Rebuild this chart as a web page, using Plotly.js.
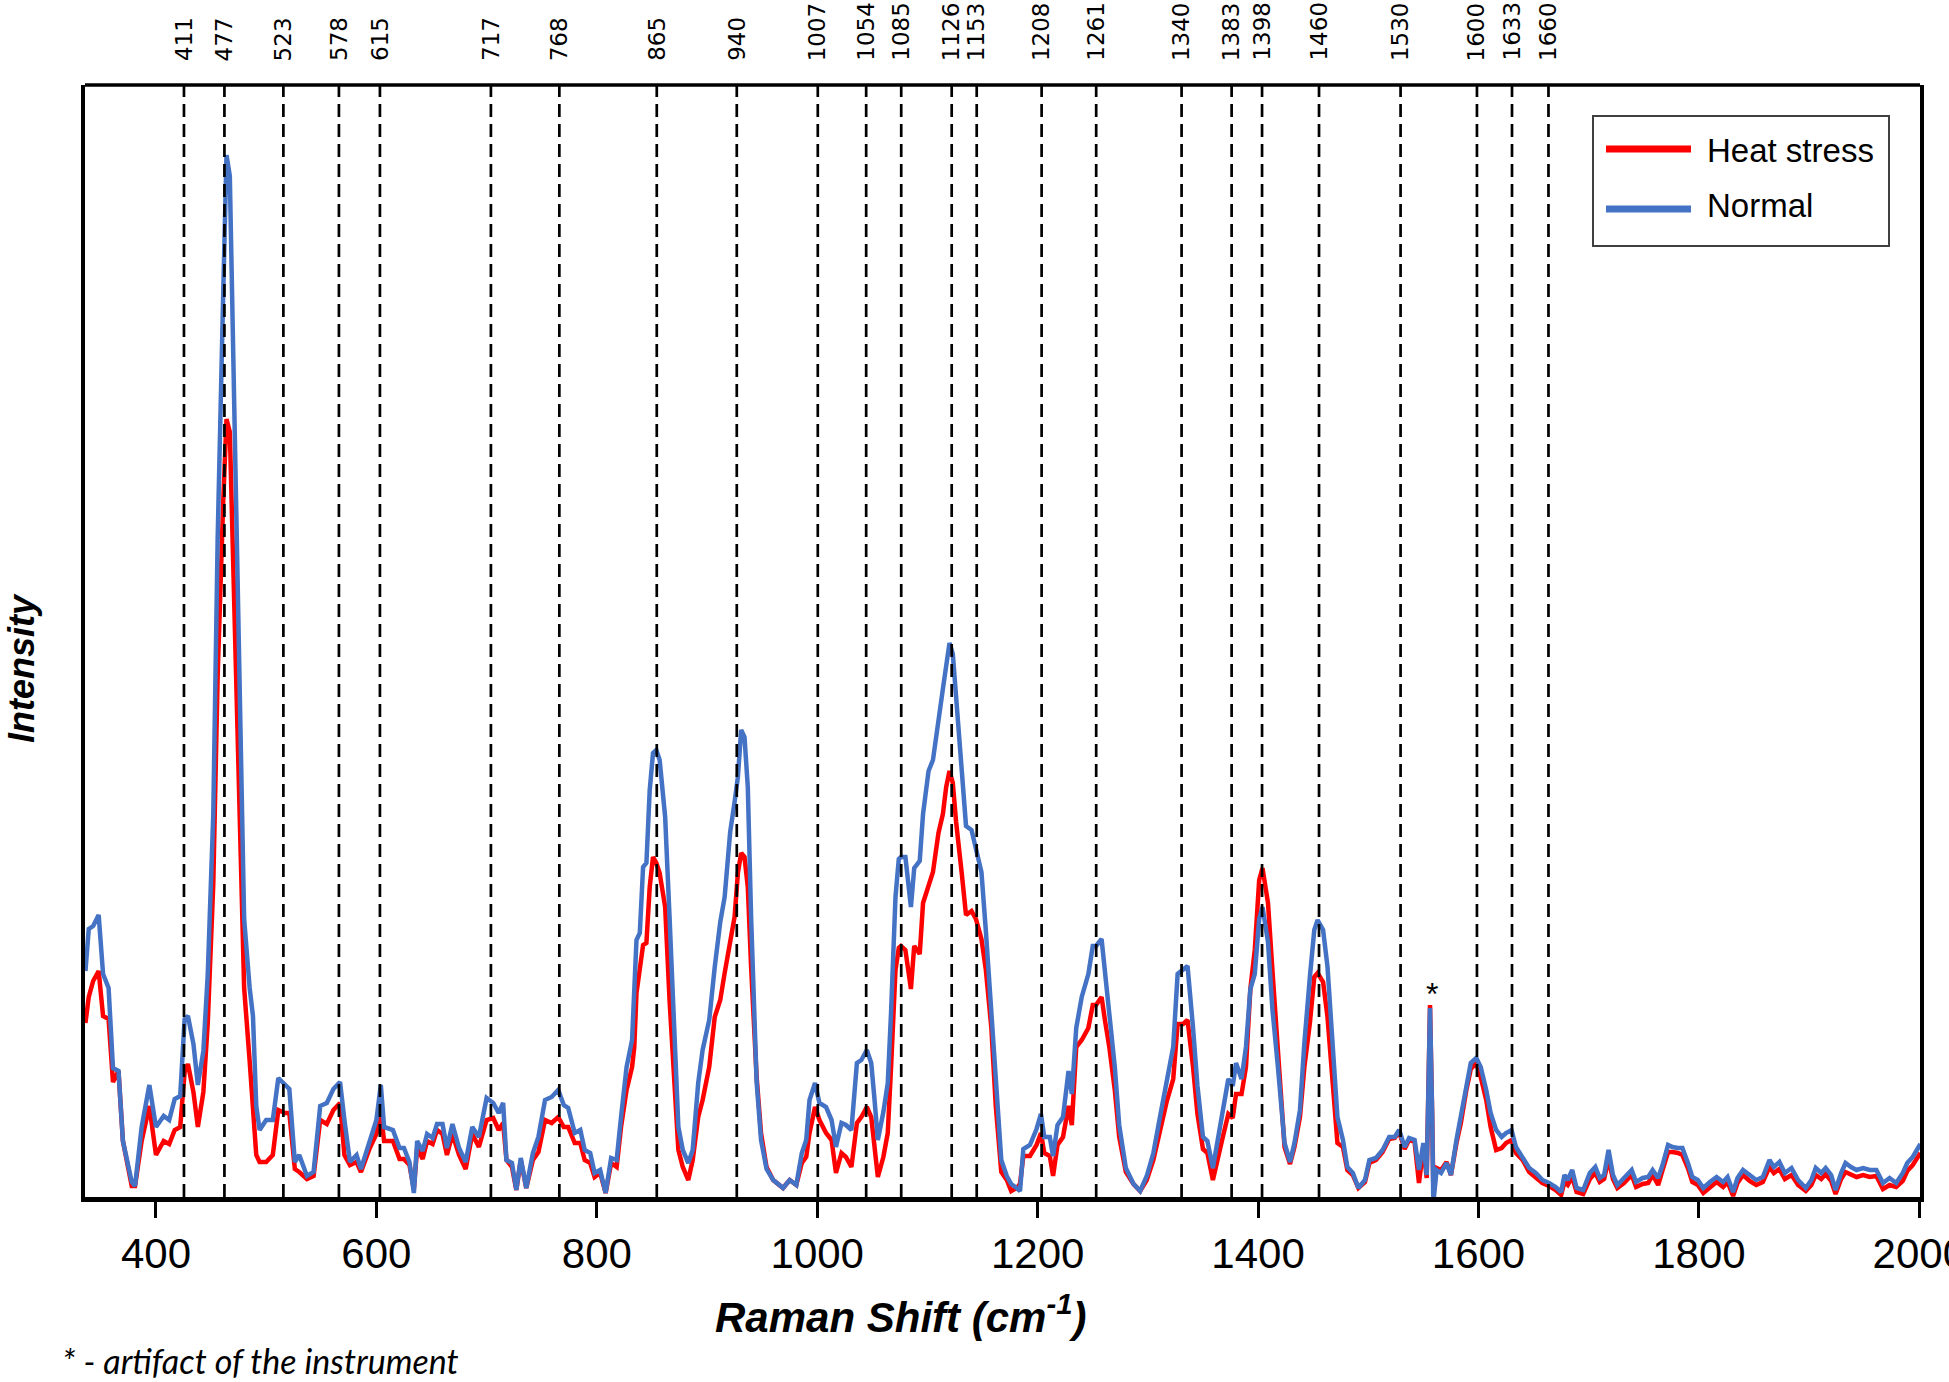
<!DOCTYPE html>
<html>
<head>
<meta charset="utf-8">
<title>Raman spectra - heat stress vs normal</title>
<script src="https://cdn.plot.ly/plotly-3.0.1.min.js"></script>
<style>
  html, body { margin: 0; padding: 0; background: #fff; }
  #chart { width: 1949px; height: 1382px; }
</style>
</head>
<body>
<div id="chart"></div>
<script>
// Raman shift (cm-1) sampled along both spectra
const ramanShift = [
  336, 339, 343, 348, 352, 357, 361, 366, 370, 378, 381, 387, 394, 400, 407, 412, 417, 422, 426, 429,
  434, 438, 443, 447, 452, 456, 461, 464, 467, 471, 476, 480, 485, 488, 491, 494, 500, 506, 511, 517,
  521, 526, 530, 537, 543, 549, 555, 561, 567, 571, 576, 582, 586, 594, 600, 604, 607, 615, 621, 625,
  630, 634, 637, 642, 646, 651, 655, 660, 664, 669, 675, 681, 687, 693,
  700, 706, 711, 715, 718, 723, 727, 731, 736, 742, 747, 753, 759, 765, 770, 774, 780, 785, 789, 794,
  798, 803, 808, 813, 818, 822, 827, 832, 834, 836, 839, 842, 845, 848, 851, 854, 857, 862, 866, 871,
  874, 878, 883, 887, 892, 896, 902, 907, 912, 916, 921, 925, 928, 931, 934, 937, 940, 945, 949, 954,
  960, 969, 975, 981, 986, 990, 993, 998, 1002, 1008, 1013, 1017, 1022, 1026, 1031, 1036, 1040, 1045, 1049, 1052,
  1055, 1060, 1064, 1067, 1071, 1074,
  1076, 1080, 1085, 1088, 1093, 1096, 1101, 1105, 1110, 1114, 1117, 1120, 1123, 1126, 1131, 1135, 1140, 1144, 1149, 1153,
  1158, 1162, 1167, 1172, 1176, 1181, 1184, 1187, 1193, 1199, 1203, 1206, 1211, 1214, 1218, 1223, 1228, 1231, 1235, 1240,
  1246, 1250, 1253, 1258, 1261, 1265, 1270, 1274, 1280, 1287, 1293, 1299, 1305, 1311, 1317, 1323, 1327, 1332, 1336, 1341,
  1345, 1350, 1354, 1359, 1364, 1368, 1373, 1377, 1380, 1385, 1389, 1393, 1397, 1401, 1404, 1409, 1413, 1418,
  1424, 1429, 1433, 1438, 1442, 1447, 1451, 1454, 1459, 1463, 1468, 1472, 1477, 1481, 1486, 1491, 1497, 1501, 1507, 1513,
  1519, 1524, 1528, 1533, 1537, 1542, 1546, 1550, 1553, 1556, 1558, 1559, 1562, 1566, 1571, 1575, 1580, 1584, 1589, 1593,
  1598, 1602, 1607, 1611, 1616, 1621, 1625, 1630, 1634, 1640, 1646, 1652, 1658, 1664, 1670, 1675,
  1678, 1681, 1685, 1689, 1695, 1701, 1706, 1710, 1714, 1718, 1722, 1726, 1732, 1739, 1743, 1749, 1754, 1758, 1763, 1767,
  1772, 1776, 1781, 1785, 1790, 1794, 1799, 1804, 1810, 1816, 1822, 1826, 1831, 1835, 1840, 1846, 1852, 1858, 1864, 1868,
  1873, 1878, 1884, 1890, 1897, 1902, 1906, 1911, 1915, 1920, 1924, 1929, 1933, 1938, 1943, 1949, 1955, 1961, 1967, 1973,
  1979, 1985, 1989, 1994, 1999, 2001
];

// Heat stress spectrum (arbitrary intensity units)
const heatStress = [
  17.4, 20.0, 21.6, 22.6, 18.1, 17.8, 11.5, 12.6, 5.6, 1.1, 1.1, 5.6, 9.1, 4.2, 5.6, 5.3, 6.7, 7.0, 12.5, 13.3,
  10.5, 7.0, 10.5, 17.4, 31.3, 52.2, 69.5, 77.8, 76.5, 59.1, 38.3, 20.9, 13.6, 9.1, 4.2, 3.5, 3.5, 4.2, 8.7, 8.4,
  8.4, 2.8, 2.5, 1.8, 2.1, 7.7, 7.3, 8.7, 9.4, 4.2, 3.2, 3.5, 2.5, 4.9, 6.3, 8.4, 5.6, 5.6, 3.8, 3.8,
  3.2, 0.8, 4.9, 3.8, 5.6, 5.3, 6.7, 6.3, 4.2, 6.3, 4.2, 2.8, 6.3, 5.0,
  7.7, 7.9, 6.7, 7.4, 3.7, 3.0, 0.7, 3.7, 0.9, 3.7, 4.5, 7.7, 7.4, 8.0, 7.0, 7.0, 5.4, 5.4, 3.7, 3.4,
  2.0, 2.4, 0.4, 3.4, 3.0, 7.0, 10.7, 13.0, 15.0, 20.4, 23.0, 25.2, 25.4, 31.0, 34.0, 33.4, 32.4, 29.0, 19.7, 9.7,
  4.7, 3.0, 1.7, 3.7, 8.0, 9.7, 13.0, 18.0, 19.7, 22.4, 25.7, 28.0, 32.4, 34.4, 34.0, 31.0, 23.0, 12.0, 6.4, 3.0,
  1.7, 0.9, 1.7, 1.2, 3.4, 4.0, 6.4, 9.0, 7.7, 6.4, 5.7, 2.4, 4.4, 4.0, 3.0, 7.4, 8.0, 9.0, 8.0, 5.4,
  2.0, 4.0, 6.4, 13.0, 22.7, 24.9,
  25.1, 24.7, 20.8, 25.1, 24.3, 29.4, 31.3, 32.5, 36.4, 38.3, 41.0, 42.6, 41.4, 37.5, 32.5, 28.2, 28.6, 27.8, 25.8, 22.7,
  16.9, 9.1, 2.5, 1.7, 0.6, 0.9, 1.3, 4.1, 4.1, 5.2, 6.4, 4.4, 4.1, 2.1, 5.2, 6.0, 9.1, 7.2, 15.0, 15.7,
  16.9, 19.2, 19.2, 20.0, 17.7, 15.0, 10.7, 6.0, 2.5, 1.3, 0.6, 1.7, 3.7, 6.8, 9.5, 11.8, 17.3, 17.3, 17.7, 13.0,
  8.3, 4.8, 4.4, 1.7, 4.4, 6.0, 8.3, 7.9, 10.3, 10.3, 13.0, 20.8, 24.7, 31.7, 32.9, 29.4, 22.7, 15.0,
  5.0, 3.3, 5.0, 8.0, 13.0, 17.4, 22.0, 22.4, 21.5, 18.0, 11.4, 5.4, 5.0, 2.7, 2.2, 0.9, 1.5, 3.4, 3.7, 4.5,
  5.8, 5.9, 6.5, 4.8, 5.7, 5.5, 1.4, 5.0, 1.9, 19.2, 8.0, 1.0, 2.9, 2.7, 3.5, 2.2, 5.4, 7.4, 10.7, 12.8,
  13.4, 12.0, 9.7, 7.0, 4.7, 4.9, 5.4, 5.7, 4.4, 3.7, 2.5, 2.0, 1.4, 1.1, 0.7, 0.2,
  1.5, 1.2, 2.0, 0.5, 0.3, 1.8, 2.4, 1.5, 1.8, 3.8, 1.8, 0.9, 1.4, 2.2, 1.0, 1.3, 1.4, 2.2, 1.2, 2.7,
  4.5, 4.5, 4.4, 4.2, 2.9, 1.5, 1.2, 0.4, 1.0, 1.5, 1.0, 1.5, 0.1, 1.4, 2.2, 1.6, 1.2, 1.5, 3.0, 2.4,
  2.8, 1.8, 2.2, 1.2, 0.6, 1.2, 2.2, 1.8, 2.3, 1.6, 0.3, 1.8, 2.5, 2.2, 2.0, 2.2, 2.0, 2.1, 0.8, 1.2,
  1.0, 1.6, 2.6, 3.2, 4.0, 4.4
];

// Normal spectrum (same units)
const normal = [
  22.6, 26.8, 27.1, 28.2, 22.3, 20.9, 12.9, 12.6, 5.6, 1.5, 1.1, 7.0, 11.2, 7.0, 8.1, 7.7, 9.8, 10.1, 17.8, 18.1,
  15.3, 11.2, 14.6, 22.3, 38.3, 66.0, 90.3, 104.2, 102.1, 79.9, 52.2, 27.8, 20.9, 18.1, 9.1, 6.7, 7.7, 7.7, 11.9, 11.2,
  10.8, 3.5, 4.2, 2.1, 2.5, 9.1, 9.4, 10.8, 11.5, 7.7, 3.5, 4.2, 2.8, 5.6, 7.7, 11.2, 7.0, 6.7, 4.9, 4.9,
  3.5, 0.4, 5.6, 4.6, 6.3, 5.9, 7.3, 7.3, 4.9, 7.3, 4.9, 3.5, 7.0, 6.0,
  9.9, 9.4, 8.4, 9.4, 3.7, 3.4, 0.7, 3.9, 0.9, 4.4, 6.0, 9.7, 10.0, 10.7, 9.2, 8.9, 6.4, 6.7, 4.7, 4.4,
  2.4, 2.7, 0.4, 3.9, 3.7, 8.0, 13.0, 15.7, 19.7, 25.7, 26.4, 33.0, 33.4, 40.7, 44.4, 44.7, 43.7, 38.0, 28.0, 14.7,
  7.0, 4.7, 3.4, 4.7, 11.4, 14.7, 17.7, 23.0, 27.5, 30.0, 36.5, 39.5, 42.0, 46.7, 46.0, 41.0, 28.0, 11.5, 5.7, 2.8,
  1.7, 0.9, 1.7, 1.2, 4.4, 5.7, 9.7, 11.4, 9.4, 9.0, 7.7, 5.0, 7.4, 7.2, 6.7, 13.4, 13.7, 14.7, 13.4, 9.7,
  5.7, 8.5, 11.4, 18.5, 30.0, 33.8,
  34.0, 34.0, 29.0, 32.9, 33.6, 38.3, 42.6, 43.7, 48.0, 50.8, 53.1, 55.4, 54.3, 50.0, 43.4, 37.1, 36.7, 34.8, 32.5, 26.6,
  18.8, 11.1, 3.7, 2.1, 1.3, 0.9, 0.6, 4.8, 5.2, 6.8, 8.3, 6.0, 6.0, 4.1, 7.2, 8.0, 12.6, 10.3, 16.9, 20.0,
  22.3, 25.1, 25.1, 25.8, 22.7, 18.8, 13.0, 7.2, 2.9, 1.3, 0.6, 2.1, 4.4, 8.0, 11.8, 15.0, 22.3, 22.7, 23.1, 16.9,
  11.1, 6.0, 5.6, 2.9, 6.0, 8.7, 11.8, 11.1, 13.4, 11.8, 15.0, 20.8, 22.3, 27.8, 29.0, 25.5, 18.8, 13.0,
  5.4, 3.5, 5.4, 8.7, 15.4, 22.0, 26.7, 27.7, 26.7, 23.0, 15.4, 8.0, 5.7, 3.0, 2.4, 0.9, 1.7, 3.7, 3.9, 4.7,
  6.0, 6.0, 6.7, 5.0, 5.9, 5.7, 2.7, 5.4, 2.2, 18.9, 8.0, -0.6, 2.7, 2.4, 3.4, 2.2, 5.7, 8.0, 11.4, 13.4,
  13.9, 13.0, 10.7, 8.4, 6.7, 6.0, 6.4, 6.7, 5.0, 4.0, 2.9, 2.4, 1.7, 1.4, 1.0, 0.5,
  2.2, 1.7, 2.7, 0.9, 0.7, 2.4, 3.0, 1.9, 2.2, 4.7, 2.2, 1.2, 1.9, 2.7, 1.5, 1.9, 2.0, 2.7, 1.9, 3.2,
  5.2, 5.0, 4.9, 4.9, 3.4, 2.0, 1.7, 0.9, 1.5, 2.0, 1.5, 2.0, 0.5, 1.9, 2.7, 2.2, 1.7, 2.0, 3.7, 3.0,
  3.5, 2.4, 2.9, 1.7, 0.9, 1.7, 2.9, 2.4, 2.9, 2.2, 0.7, 2.4, 3.4, 3.0, 2.7, 2.9, 2.7, 2.7, 1.4, 1.9,
  1.4, 2.4, 3.4, 4.0, 4.9, 5.3
];

// Assigned bands: printed label, and the shift where its dashed line is drawn
const bandLabels = [
  '411', '477', '523', '578', '615', '717', '768', '865', '940', '1007', '1054', '1085',
  '1126', '1153', '1208', '1261', '1340', '1383', '1398', '1460', '1530', '1600', '1633', '1660'
];
const bandShift = [
  425.4, 462.1, 515.6, 566.0, 603.2, 703.9, 766.0, 854.4, 927.0, 1000.5, 1044.4, 1076.2,
  1122.0, 1144.7, 1203.6, 1253.1, 1330.6, 1376.0, 1403.6, 1455.3, 1529.3, 1598.6, 1630.4, 1663.5
];

const xTickValues = [400, 600, 800, 1000, 1200, 1400, 1600, 1800, 2000];
const seriesNames = ['Heat stress', 'Normal'];
const seriesColors = ['#ff0000', '#4472c4'];

// Plot area in page pixels (the reference frame), used to place paper-referenced items
const plotBox = { left: 85, right: 1920, top: 85, bottom: 1197 };
const plotW = plotBox.right - plotBox.left;
const plotH = plotBox.bottom - plotBox.top;
const px2paperX = function(px) { return (px - plotBox.left) / plotW; };
const px2paperY = function(py) { return (plotBox.bottom - py) / plotH; };

const sansFont = 'Liberation Sans, Arial, sans-serif';

function buildTraces() {
    const ys = [heatStress, normal];
    return ys.map(function(y, i) {
        return {
            x: ramanShift,
            y: y,
            type: 'scatter',
            mode: 'lines',
            name: seriesNames[i],
            line: { color: seriesColors[i], width: 4.5, shape: 'linear' },
            hoverinfo: 'x+y+name',
            showlegend: false
        };
    });
}

function buildShapes() {
    // dashed band markers, drawn over the spectra like in the figure
    const shapes = bandShift.map(function(pos) {
        return {
            type: 'line', xref: 'x', yref: 'paper',
            x0: pos, x1: pos, y0: 0, y1: 1,
            layer: 'above',
            line: { color: '#000', width: 2.7, dash: '13px,7px' }
        };
    });

    // top frame edge (the other edges are axis lines)
    shapes.push({
        type: 'line', xref: 'paper', yref: 'paper',
        x0: 0, x1: 1, y0: 1, y1: 1,
        line: { color: '#000', width: 3.5 }
    });

    // hand-built legend: box and two line samples
    shapes.push({
        type: 'rect', xref: 'paper', yref: 'paper',
        x0: px2paperX(1593), x1: px2paperX(1889), y0: px2paperY(246), y1: px2paperY(116),
        fillcolor: '#fff', line: { color: '#404040', width: 2 }
    });
    [149, 209].forEach(function(py, i) {
        shapes.push({
            type: 'line', xref: 'paper', yref: 'paper',
            x0: px2paperX(1606), x1: px2paperX(1691), y0: px2paperY(py), y1: px2paperY(py),
            line: { color: seriesColors[i], width: 7 }
        });
    });
    return shapes;
}

function buildAnnotations() {
    const notes = bandLabels.map(function(label, i) {
        return {
            x: bandShift[i], xref: 'x',
            y: px2paperY(63), yref: 'paper',
            text: label, textangle: -90,
            xanchor: 'center', yanchor: 'bottom',
            showarrow: false,
            font: { family: 'DejaVu Sans, Verdana, sans-serif', size: 23, color: '#000' }
        };
    });

    // legend labels
    [151, 205].forEach(function(py, i) {
        notes.push({
            x: px2paperX(1705), xref: 'paper', y: px2paperY(py), yref: 'paper',
            xanchor: 'left', yanchor: 'middle', showarrow: false,
            text: seriesNames[i],
            font: { family: sansFont, size: 33, color: '#000' }
        });
    });

    // axis titles, placed where the figure has them
    notes.push({
        x: px2paperX(901), xref: 'paper', y: px2paperY(1314), yref: 'paper',
        xanchor: 'center', yanchor: 'middle', showarrow: false,
        text: '<b><i>Raman Shift (cm<sup>-1</sup>)</i></b>',
        font: { family: sansFont, size: 42, color: '#000' }
    });
    notes.push({
        x: px2paperX(21), xref: 'paper', y: px2paperY(668), yref: 'paper',
        xanchor: 'center', yanchor: 'middle', showarrow: false, textangle: -90,
        text: '<b><i>Intensity</i></b>',
        font: { family: sansFont, size: 36, color: '#000' }
    });

    // artifact marker and footnote
    notes.push({
        x: 1558, xref: 'x', y: 20.3, yref: 'y',
        xanchor: 'center', yanchor: 'middle', showarrow: false,
        text: '*',
        font: { family: sansFont, size: 32, color: '#000' }
    });
    notes.push({
        x: px2paperX(60), xref: 'paper', y: px2paperY(1360), yref: 'paper',
        xanchor: 'left', yanchor: 'middle', showarrow: false,
        text: '<i>* - artifact of the instrument</i>',
        font: { family: 'Lato, ' + sansFont, size: 34, color: '#000' }
    });
    return notes;
}

const layout = {
    width: 1949,
    height: 1382,
    autosize: false,
    margin: { l: plotBox.left, r: 1949 - plotBox.right, t: plotBox.top, b: 1382 - plotBox.bottom },
    paper_bgcolor: '#fff',
    plot_bgcolor: '#fff',
    showlegend: false,
    font: { family: sansFont, color: '#000' },
    xaxis: {
        range: [335.6, 2000.6],
        tickvals: xTickValues,
        ticktext: xTickValues.map(String),
        ticks: 'outside',
        ticklen: 16,
        tickwidth: 3,
        tickcolor: '#000',
        ticklabelstandoff: 0,
        ticklabeloverflow: 'allow',
        tickfont: { family: sansFont, size: 42, color: '#000' },
        showline: true,
        linewidth: 5,
        linecolor: '#000',
        showgrid: false,
        zeroline: false
    },
    yaxis: {
        range: [0, 111.2],
        showticklabels: false,
        ticks: '',
        showline: true,
        linewidth: 3.5,
        linecolor: '#000',
        mirror: true,
        showgrid: false,
        zeroline: false
    },
    shapes: buildShapes(),
    annotations: buildAnnotations()
};

Plotly.newPlot('chart', buildTraces(), layout, { displayModeBar: false, responsive: false });
</script>
</body>
</html>
